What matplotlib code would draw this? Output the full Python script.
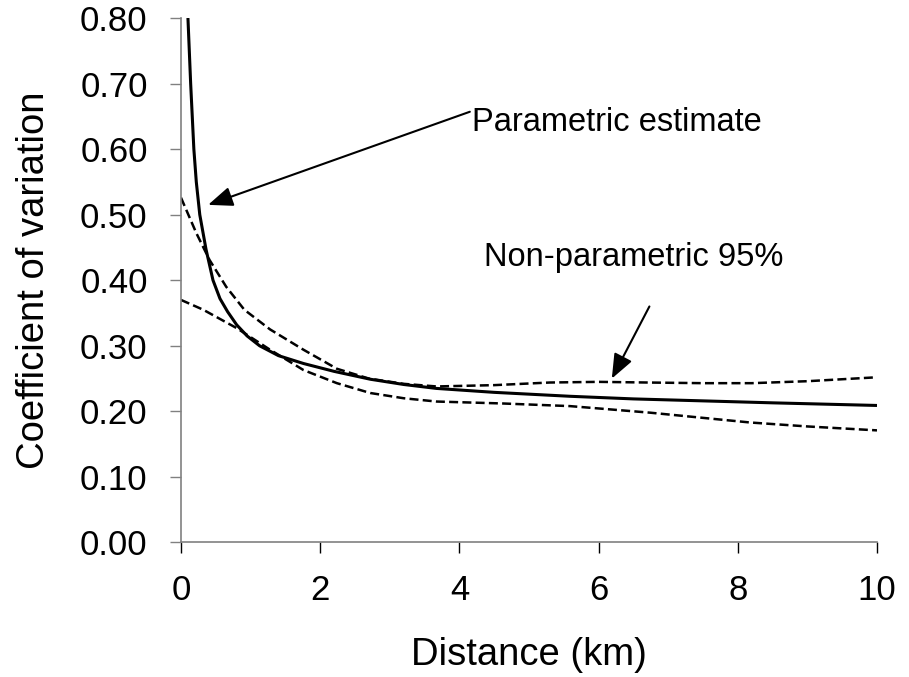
import matplotlib.pyplot as plt

plt.rcParams['font.family'] = ['Liberation Sans', 'DejaVu Sans']

# parametric estimate (solid)
param_x = [0.10, 0.139, 0.185, 0.22, 0.27, 0.36, 0.46, 0.56, 0.67, 0.80, 0.95, 1.13,
           1.4, 1.76, 2.2, 2.72, 3.2, 3.67, 4.5, 5.59, 6.5, 7.5, 8.5, 10]
param_y = [0.80, 0.70, 0.60, 0.55, 0.50, 0.447, 0.40, 0.372, 0.352, 0.332, 0.315, 0.300,
           0.285, 0.273, 0.261, 0.249, 0.241, 0.235, 0.229, 0.223, 0.219, 0.216, 0.213, 0.209]

# non-parametric 95% bounds (dashed)
upper_x = [0, 0.22, 0.41, 0.65, 0.91, 1.28, 1.76, 2.24, 2.7, 3.2, 3.67, 4.5, 5.3, 6.0,
           6.7, 7.5, 8.2, 9.0, 10]
upper_y = [0.526, 0.472, 0.431, 0.39, 0.355, 0.325, 0.294, 0.265, 0.250, 0.242, 0.238,
           0.240, 0.244, 0.245, 0.244, 0.243, 0.243, 0.246, 0.252]
lower_x = [0, 0.32, 0.80, 1.28, 1.76, 2.24, 2.72, 3.2, 3.67, 4.63, 5.59, 6.74, 8.18, 9.0, 10]
lower_y = [0.370, 0.355, 0.327, 0.294, 0.263, 0.243, 0.228, 0.220, 0.215, 0.212, 0.208,
           0.198, 0.183, 0.177, 0.171]

xticks = [0, 2, 4, 6, 8, 10]
yticks = [0.0, 0.1, 0.2, 0.3, 0.4, 0.5, 0.6, 0.7, 0.8]

fig = plt.figure(figsize=(9.09, 6.77), dpi=100)
ax = fig.add_axes([0.1991, 0.1987, 0.7657, 0.7747])

ax.plot(param_x, param_y, color='black', lw=2.2, solid_capstyle='butt')
ax.plot(upper_x, upper_y, color='black', lw=1.8, dashes=(3.6, 1.7))
ax.plot(lower_x, lower_y, color='black', lw=1.8, dashes=(3.6, 1.7))

ax.set_xlim(0, 10)
ax.set_ylim(0, 0.8)
ax.set_xticks(xticks)
ax.set_yticks(yticks)
ax.set_yticklabels(['%.2f' % v for v in yticks])

for s in ['top', 'right']:
    ax.spines[s].set_visible(False)
for s in ['left', 'bottom']:
    ax.spines[s].set_color('#808080')
    ax.spines[s].set_linewidth(1.2)

ax.tick_params(axis='x', direction='out', length=8, width=1.0, color='black',
               labelsize=25, pad=15)
ax.tick_params(axis='y', direction='out', length=8, width=1.0, color='#808080',
               labelsize=25, pad=16)

ax.set_xlabel('Distance (km)', fontsize=27.5, labelpad=21)
ax.set_ylabel('Coefficient of variation', fontsize=27.5, labelpad=20)

arrow = dict(arrowstyle='-|>,head_length=1.5,head_width=0.6',
             color='black', lw=1.5, shrinkA=0, shrinkB=0)
ax.annotate('', xy=(0.39, 0.515), xytext=(4.15, 0.657), arrowprops=arrow)
ax.text(4.18, 0.64, 'Parametric estimate', fontsize=23.5, va='center', ha='left')

ax.annotate('', xy=(6.19, 0.25), xytext=(6.73, 0.36), arrowprops=arrow)
ax.text(4.35, 0.435, 'Non-parametric 95%', fontsize=23.5, va='center', ha='left')

fig.savefig('out.png', dpi=100)
